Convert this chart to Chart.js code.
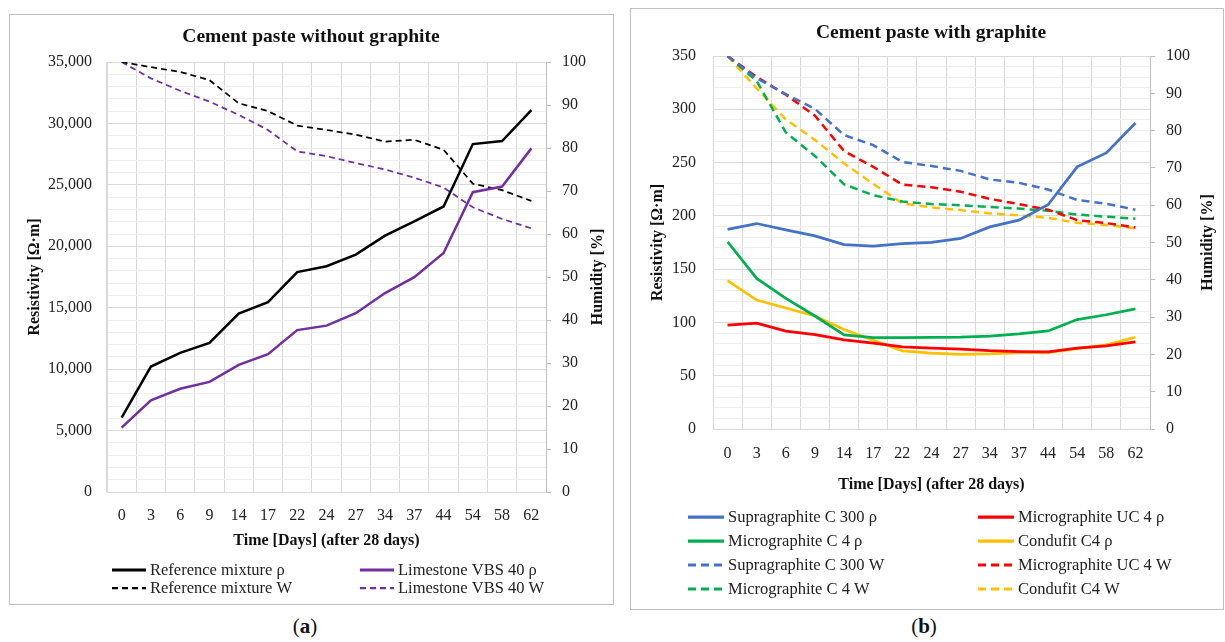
<!DOCTYPE html>
<html>
<head>
<meta charset="utf-8">
<script src="https://cdn.jsdelivr.net/npm/chart.js@4.4.1/dist/chart.umd.min.js"></script>
<style>
  body { margin: 0; background: #fff; width: 1225px; height: 642px; position: relative; overflow: hidden; font-family: 'Liberation Serif', 'DejaVu Serif', serif; }
  .panel { position: absolute; box-sizing: border-box; border: 1px solid #bfbfbf; }
  .panel canvas { position: absolute; left: 0; top: 0; }
  .cap { position: absolute; font-size: 21px; transform: translateX(-50%); color: #111; }
</style>
</head>
<body>
<div class="panel" style="left:9px;top:14px;width:605px;height:591px"><canvas id="chartA" width="603" height="589"></canvas></div>
<div class="panel" style="left:630px;top:8px;width:594px;height:602px"><canvas id="chartB" width="592" height="600"></canvas></div>
<div class="cap" style="left:305px;top:614px">(<b>a</b>)</div>
<div class="cap" style="left:924px;top:614px">(<b>b</b>)</div>

<script>
// days after the 28 day cure, shared by both panels
const days = ['0', '3', '6', '9', '14', '17', '22', '24', '27', '34', '37', '44', '54', '58', '62'];

// (a) cement paste without graphite
const refRho = [6060, 10210, 11330, 12130, 14520, 15450, 17900, 18380, 19320, 20870, 22030, 23240, 28320, 28570, 31080];
const limeRho = [5240, 7470, 8400, 8960, 10350, 11220, 13180, 13540, 14550, 16190, 17490, 19460, 24400, 24860, 27970];
const refW = [100, 98.8, 97.7, 95.8, 90.4, 88.6, 85.2, 84.2, 83.1, 81.5, 81.9, 79.6, 71.7, 70.2, 67.7];
const limeW = [100, 96.2, 93.3, 90.8, 87.7, 84.2, 79.2, 78.1, 76.5, 75.0, 73.1, 70.8, 66.2, 63.5, 61.3];

// (b) cement paste with graphite
const supraRho = [187.3, 192.8, 186.8, 181.2, 173, 171.5, 174, 175.2, 178.8, 189.6, 196, 210.4, 246, 259, 287.2];
const microUcRho = [97.4, 99.4, 91.8, 88.6, 83.6, 80.5, 77.1, 75.8, 75, 73.5, 72.7, 72.3, 75.8, 78.1, 81.8];
const microCRho = [175.7, 141.3, 122.5, 106, 88.4, 85.8, 85.8, 86, 86.2, 87.1, 89.2, 92, 102.7, 107.2, 112.8];
const condufitRho = [139.3, 121, 113.5, 106, 93.3, 83.2, 73.3, 71.3, 70.1, 70.5, 71.6, 71.6, 75.5, 78.9, 86.1];
const supraW = [100, 94, 89.8, 85.8, 78.8, 76.1, 71.6, 70.5, 69.2, 66.9, 66, 64.2, 61.4, 60.4, 58.8];
const microUcW = [100, 94.4, 89.6, 84, 74.5, 70.3, 65.5, 64.8, 63.6, 61.7, 60.3, 58.8, 56, 55.2, 54];
const microCW = [100, 93.3, 79.5, 73.2, 65.6, 62.7, 61, 60.3, 60, 59.5, 59.1, 58.5, 57.5, 56.9, 56.4];
const condufitW = [100, 91.3, 83, 77.5, 71.2, 65.7, 60.5, 59.4, 58.7, 57.8, 57.3, 56.6, 55.3, 54.7, 53.8];

const FONT = "'Liberation Serif', 'DejaVu Serif', serif";
Chart.defaults.font.family = FONT;
Chart.defaults.color = '#222';

// title, right axis title (reads bottom-up like Excel) and two-column legend
const panelText = {
    id: 'panelText',
    afterDraw(chart, args, opts) {
        const ctx = chart.ctx;
        const area = chart.chartArea;
        ctx.save();
        ctx.fillStyle = '#111';
        ctx.font = 'bold 19.5px ' + FONT;
        ctx.textAlign = 'center';
        ctx.textBaseline = 'middle';
        ctx.fillText(opts.title, opts.titleX, opts.titleY);

        ctx.save();
        ctx.font = 'bold 16px ' + FONT;
        ctx.translate(opts.humX, (area.top + area.bottom) / 2);
        ctx.rotate(-Math.PI / 2);
        ctx.fillText('Humidity [%]', 0, 0);
        ctx.restore();

        ctx.font = '16.5px ' + FONT;
        ctx.textAlign = 'left';
        chart.data.datasets.forEach((ds, i) => {
            const x = opts.cols[i % 2];
            const y = opts.rows[Math.floor(i / 2)];
            ctx.strokeStyle = ds.borderColor;
            ctx.lineWidth = ds.borderWidth + 0.5;
            ctx.setLineDash(ds.borderDash || []);
            ctx.beginPath();
            ctx.moveTo(x, y);
            ctx.lineTo(x + opts.lineLen, y);
            ctx.stroke();
            ctx.setLineDash([]);
            ctx.fillStyle = '#222';
            ctx.fillText(ds.label, x + opts.lineLen + 4, y + 1);
        });
        ctx.restore();
    }
};

function line(label, data, color, axis, dashed, solidW, dashW, dash) {
    return {
        label: label,
        data: data,
        yAxisID: axis,
        borderColor: color,
        backgroundColor: color,
        borderWidth: dashed ? dashW : solidW,
        borderDash: dashed ? dash : [],
        pointRadius: 0,
        tension: 0,
        fill: false
    };
}

function makeScales(o) {
    return {
        x: {
            type: 'category',
            offset: true,
            grid: { offset: true, color: '#d9d9d9', drawTicks: false },
            border: { color: '#d9d9d9' },
            ticks: { autoSkip: false, maxRotation: 0, padding: o.xPad, font: { size: 16 }, color: '#222' },
            title: { display: true, text: 'Time [Days] (after 28 days)', font: { size: 16, weight: 'bold' }, color: '#111', padding: { top: 0, bottom: 2 } },
            afterFit: s => { s.height = o.xHeight; }
        },
        y: {
            position: 'left',
            min: 0,
            max: o.resMax,
            grid: {
                drawTicks: false,
                color: c => (c.tick.value % o.resMajor === 0 ? '#d9d9d9' : '#eeeeee')
            },
            border: { color: '#d9d9d9' },
            ticks: {
                stepSize: o.resMinor,
                autoSkip: false,
                padding: o.yPad,
                font: { size: 16 },
                color: '#222',
                callback: v => (v % o.resMajor === 0 ? v.toLocaleString('en-US') : '')
            },
            title: { display: true, text: 'Resistivity [Ω·m]', font: { size: 16, weight: 'bold' }, color: '#111', padding: { top: o.yTitlePad } },
            afterFit: s => { s.width = o.yWidth; }
        },
        y1: {
            position: 'right',
            min: 0,
            max: 100,
            grid: { drawOnChartArea: false, drawTicks: true, tickLength: 5, color: '#bfbfbf' },
            border: { color: '#bfbfbf' },
            ticks: { stepSize: 10, autoSkip: false, padding: 11, font: { size: 16 }, color: '#222' },
            afterFit: s => { s.width = o.y1Width; }
        }
    };
}

new Chart(document.getElementById('chartA'), {
    type: 'line',
    data: {
        labels: days,
        datasets: [
            line('Reference mixture ρ', refRho, '#000000', 'y', false, 2.5, 1.75, [6, 4]),
            line('Limestone VBS 40 ρ', limeRho, '#7030a0', 'y', false, 2.5, 1.75, [6, 4]),
            line('Reference mixture W', refW, '#000000', 'y1', true, 2.5, 1.75, [6, 4]),
            line('Limestone VBS 40 W', limeW, '#7030a0', 'y1', true, 2.5, 1.75, [6, 4])
        ]
    },
    options: {
        responsive: false,
        animation: false,
        layout: { padding: { top: 47, left: 0, right: 0, bottom: 52 } },
        plugins: {
            legend: { display: false },
            tooltip: { enabled: false },
            panelText: { title: 'Cement paste without graphite', titleX: 301, titleY: 22, humX: 588, cols: [102, 350], rows: [555, 573], lineLen: 34 }
        },
        scales: makeScales({ xPad: 14, xHeight: 60, resMax: 35000, resMajor: 5000, resMinor: 1000, yPad: 15, yTitlePad: 15, yWidth: 97, y1Width: 67 })
    },
    plugins: [panelText]
});

new Chart(document.getElementById('chartB'), {
    type: 'line',
    data: {
        labels: days,
        datasets: [
            line('Supragraphite C 300 ρ', supraRho, '#4472c4', 'y', false, 2.75, 2.5, [8, 5]),
            line('Micrographite UC 4 ρ', microUcRho, '#ff0000', 'y', false, 2.75, 2.5, [8, 5]),
            line('Micrographite C 4 ρ', microCRho, '#00b050', 'y', false, 2.75, 2.5, [8, 5]),
            line('Condufit C4 ρ', condufitRho, '#ffc000', 'y', false, 2.75, 2.5, [8, 5]),
            line('Supragraphite C 300 W', supraW, '#4472c4', 'y1', true, 2.75, 2.5, [8, 5]),
            line('Micrographite UC 4 W', microUcW, '#ff0000', 'y1', true, 2.75, 2.5, [8, 5]),
            line('Micrographite C 4 W', microCW, '#00b050', 'y1', true, 2.75, 2.5, [8, 5]),
            line('Condufit C4 W', condufitW, '#ffc000', 'y1', true, 2.75, 2.5, [8, 5])
        ]
    },
    options: {
        responsive: false,
        animation: false,
        layout: { padding: { top: 47, left: 0, right: 0, bottom: 113 } },
        plugins: {
            legend: { display: false },
            tooltip: { enabled: false },
            panelText: { title: 'Cement paste with graphite', titleX: 300, titleY: 24, humX: 577, cols: [57, 347], rows: [508, 532, 556, 580], lineLen: 36 }
        },
        scales: makeScales({ xPad: 15, xHeight: 67, resMax: 350, resMajor: 50, resMinor: 10, yPad: 17, yTitlePad: 17, yWidth: 82, y1Width: 73 })
    },
    plugins: [panelText]
});
</script>
</body>
</html>
